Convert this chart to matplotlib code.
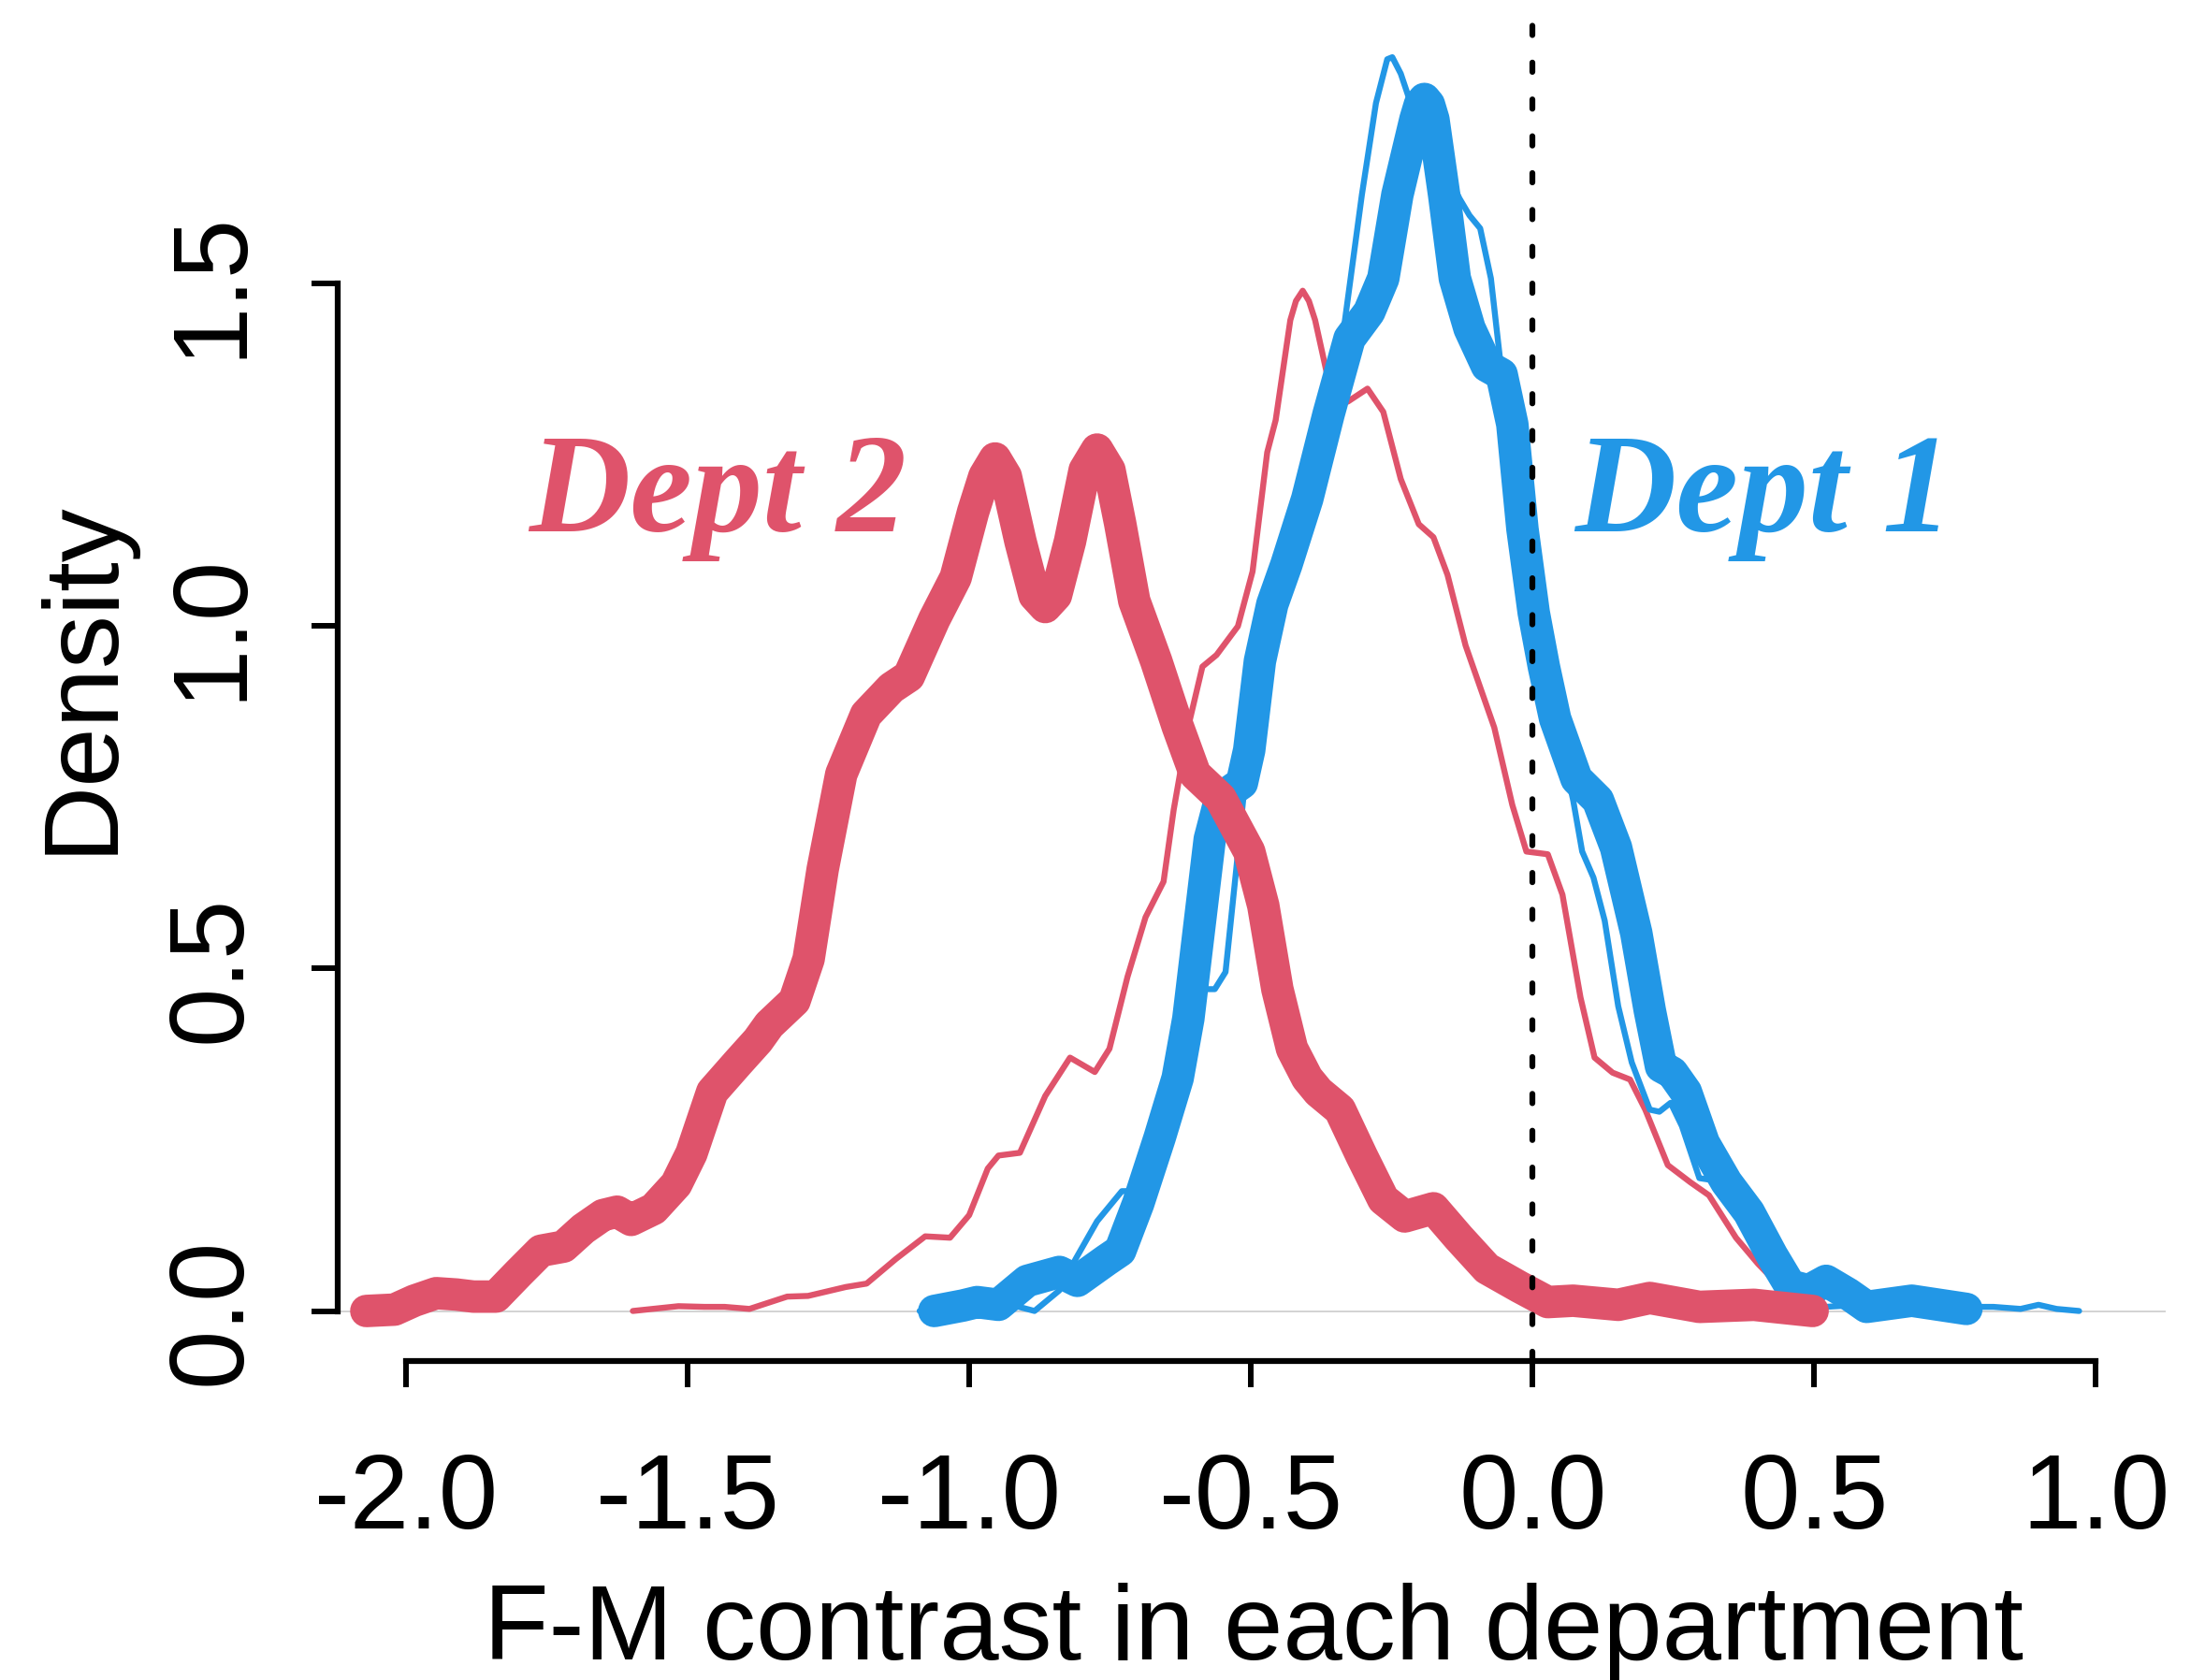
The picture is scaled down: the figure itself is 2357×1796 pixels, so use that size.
import matplotlib
matplotlib.use("Agg")
import matplotlib.pyplot as plt

plt.rcParams['font.family'] = ['Liberation Sans', 'DejaVu Sans']

red = '#DF536B'
blue = '#2297E6'

# Dept 2, thick curve
dept2_thick_x = [-2.07, -2.02, -1.985, -1.946, -1.91, -1.88, -1.84, -1.80, -1.76, -1.72, -1.685, -1.65,
                 -1.625, -1.60, -1.56, -1.52, -1.493, -1.456, -1.41, -1.375, -1.355, -1.31, -1.285,
                 -1.26, -1.227, -1.183, -1.138, -1.107, -1.062, -1.024, -0.993, -0.973, -0.954,
                 -0.935, -0.909, -0.884, -0.865, -0.846, -0.821, -0.795, -0.773, -0.751, -0.732,
                 -0.707, -0.668, -0.63, -0.599, -0.554, -0.503, -0.478, -0.453, -0.427, -0.40,
                 -0.38, -0.342, -0.303, -0.265, -0.227, -0.176, -0.131, -0.081, -0.023, 0.027,
                 0.072, 0.152, 0.208, 0.296, 0.393, 0.497]
dept2_thick_y = [0.0, 0.002, 0.015, 0.026, 0.024, 0.021, 0.021, 0.055, 0.088, 0.094, 0.12, 0.14,
                 0.145, 0.133, 0.149, 0.185, 0.23, 0.32, 0.363, 0.395, 0.418, 0.453, 0.514,
                 0.645, 0.784, 0.871, 0.91, 0.927, 1.01, 1.071, 1.167, 1.219, 1.245,
                 1.219, 1.124, 1.045, 1.028, 1.045, 1.124, 1.228, 1.258, 1.228, 1.15,
                 1.037, 0.949, 0.854, 0.784, 0.749, 0.671, 0.592, 0.47, 0.383, 0.34,
                 0.32, 0.294, 0.226, 0.163, 0.138, 0.15, 0.107, 0.062, 0.035, 0.013,
                 0.015, 0.009, 0.019, 0.006, 0.009, 0.0]

# Dept 2, thin curve
dept2_thin_x = [-1.597, -1.516, -1.47, -1.434, -1.39, -1.323, -1.286, -1.219, -1.182, -1.13, -1.078,
                -1.034, -1.0, -0.967, -0.948, -0.91, -0.865, -0.821, -0.777, -0.751, -0.719, -0.687,
                -0.655, -0.637, -0.611, -0.586, -0.561, -0.523, -0.497, -0.471, -0.456, -0.43,
                -0.42, -0.408, -0.397, -0.386, -0.36, -0.328, -0.293, -0.265, -0.234, -0.202,
                -0.176, -0.151, -0.119, -0.068, -0.036, -0.011, 0.027, 0.053, 0.085, 0.11, 0.142,
                0.173, 0.2, 0.24, 0.28, 0.313, 0.361, 0.4, 0.44, 0.48]
dept2_thin_y = [0.0, 0.007, 0.006, 0.006, 0.003, 0.021, 0.022, 0.035, 0.04, 0.076, 0.109,
                0.107, 0.14, 0.208, 0.227, 0.231, 0.314, 0.37, 0.349, 0.383, 0.488, 0.575,
                0.627, 0.732, 0.854, 0.941, 0.958, 1.0, 1.08, 1.254, 1.301, 1.447,
                1.475, 1.49, 1.475, 1.447, 1.35, 1.328, 1.347, 1.313, 1.215, 1.149,
                1.13, 1.075, 0.972, 0.852, 0.739, 0.671, 0.667, 0.608, 0.458, 0.37, 0.348,
                0.338, 0.294, 0.213, 0.188, 0.169, 0.107, 0.069, 0.035, 0.01]

# Dept 1, thick curve
dept1_thick_x = [-1.062, -1.011, -0.986, -0.948, -0.897, -0.84, -0.808, -0.757, -0.732, -0.70, -0.662,
                 -0.63, -0.611, -0.592, -0.573, -0.554, -0.516, -0.503, -0.484, -0.462, -0.437, -0.40,
                 -0.362, -0.325, -0.29, -0.265, -0.24, -0.208, -0.2, -0.192, -0.184, -0.176, -0.157,
                 -0.138, -0.112, -0.081, -0.055, -0.036, -0.018, 0.002, 0.02, 0.04, 0.078, 0.116,
                 0.148, 0.184, 0.208, 0.228, 0.248, 0.272, 0.304, 0.344, 0.384, 0.425, 0.457, 0.49,
                 0.521, 0.56, 0.593, 0.673, 0.77]
dept1_thick_y = [0.0, 0.008, 0.013, 0.009, 0.044, 0.057, 0.044, 0.074, 0.088, 0.157, 0.253,
                 0.34, 0.427, 0.558, 0.689, 0.749, 0.771, 0.819, 0.949, 1.032, 1.09, 1.186,
                 1.31, 1.42, 1.459, 1.508, 1.63, 1.74, 1.762, 1.77, 1.762, 1.74, 1.63,
                 1.508, 1.435, 1.38, 1.368, 1.295, 1.142, 1.02, 0.941, 0.865, 0.777, 0.746,
                 0.677, 0.552, 0.439, 0.357, 0.348, 0.32, 0.245, 0.188, 0.144, 0.081, 0.037, 0.03,
                 0.044, 0.025, 0.006, 0.015, 0.003]

# Dept 1, thin curve
dept1_thin_x = [-1.088, -1.0, -0.93, -0.884, -0.84, -0.811, -0.773, -0.729, -0.70, -0.662, -0.63,
                -0.611, -0.592, -0.579, -0.564, -0.545, -0.526, -0.513, -0.484, -0.462, -0.437,
                -0.40, -0.362, -0.335, -0.303, -0.278, -0.258, -0.249, -0.234, -0.214, -0.19,
                -0.176, -0.15, -0.13, -0.112, -0.093, -0.074, -0.058, -0.045, -0.036, -0.018,
                0.002, 0.02, 0.04, 0.072, 0.088, 0.108, 0.128, 0.152, 0.176, 0.208, 0.225, 0.245,
                0.265, 0.296, 0.344, 0.384, 0.425, 0.457, 0.48, 0.52, 0.6, 0.673, 0.77, 0.818,
                0.866, 0.898, 0.93, 0.97]
dept1_thin_y = [0.0, 0.01, 0.01, 0.0, 0.03, 0.076, 0.131, 0.175, 0.175, 0.253, 0.34,
                0.427, 0.47, 0.47, 0.47, 0.495, 0.645, 0.752, 0.949, 1.032, 1.09,
                1.186, 1.31, 1.435, 1.63, 1.764, 1.828, 1.831, 1.807, 1.758, 1.745,
                1.72, 1.66, 1.625, 1.6, 1.581, 1.508, 1.392, 1.33, 1.295, 1.142,
                1.02, 0.941, 0.865, 0.746, 0.671, 0.633, 0.57, 0.445, 0.363, 0.294, 0.291, 0.304,
                0.27, 0.194, 0.188, 0.144, 0.081, 0.037, 0.01, 0.006, 0.01, 0.012, 0.006, 0.006,
                0.003, 0.009, 0.003, 0.0]

x_ticks = [-2.0, -1.5, -1.0, -0.5, 0.0, 0.5, 1.0]
x_tick_labels = ['-2.0', '-1.5', '-1.0', '-0.5', '0.0', '0.5', '1.0']
y_ticks = [0.0, 0.5, 1.0, 1.5]
y_tick_labels = ['0.0', '0.5', '1.0', '1.5']

fig = plt.figure(figsize=(23.57, 17.96), dpi=100)
ax = fig.add_axes([0.1531, 0.1899, 0.8289, 0.8001])

ax.axhline(0, color='#d3d3d3', lw=1.4, zorder=0)
ax.plot(dept2_thin_x, dept2_thin_y, color=red, lw=4.6, solid_capstyle='round',
        solid_joinstyle='round', zorder=1)
ax.plot(dept1_thin_x, dept1_thin_y, color=blue, lw=4.6, solid_capstyle='round',
        solid_joinstyle='round', zorder=2)
ax.plot(dept1_thick_x, dept1_thick_y, color=blue, lw=25, solid_capstyle='round',
        solid_joinstyle='round', zorder=3, clip_on=False)
ax.plot(dept2_thick_x, dept2_thick_y, color=red, lw=25, solid_capstyle='round',
        solid_joinstyle='round', zorder=4, clip_on=False)
ax.axvline(0, color='black', lw=4.5, ls=(0, (1.6, 4.7)), dash_capstyle='round', zorder=5)

ax.text(-1.447, 1.139, 'Dept 2', color=red, fontsize=108, fontfamily='Liberation Serif',
        style='italic', weight='bold', ha='center', va='baseline')
ax.text(0.41, 1.139, 'Dept 1', color=blue, fontsize=108, fontfamily='Liberation Serif',
        style='italic', weight='bold', ha='center', va='baseline')

ax.set_xlim(-2.121, 1.123)
ax.set_ylim(-0.073, 1.89)
for s in ['top', 'right']:
    ax.spines[s].set_visible(False)
ax.spines['left'].set_bounds(0, 1.5)
ax.spines['bottom'].set_bounds(-2, 1)
ax.spines['left'].set_linewidth(4.5)
ax.spines['bottom'].set_linewidth(4.5)

ax.set_xticks(x_ticks)
ax.set_xticklabels(x_tick_labels)
ax.set_yticks(y_ticks)
ax.set_yticklabels(y_tick_labels, rotation=90, va='center')
ax.tick_params(axis='both', direction='out', length=20, width=4.3, labelsize=82)
ax.tick_params(axis='x', pad=50)
ax.tick_params(axis='y', pad=38)

fig.text(0.5683, 0.0125, 'F-M contrast in each department', fontsize=82,
         ha='center', va='baseline')
fig.text(0.0497, 0.5975, 'Density', fontsize=82, rotation=90, rotation_mode='anchor',
         ha='center', va='baseline')

fig.savefig('out.png', dpi=100)
